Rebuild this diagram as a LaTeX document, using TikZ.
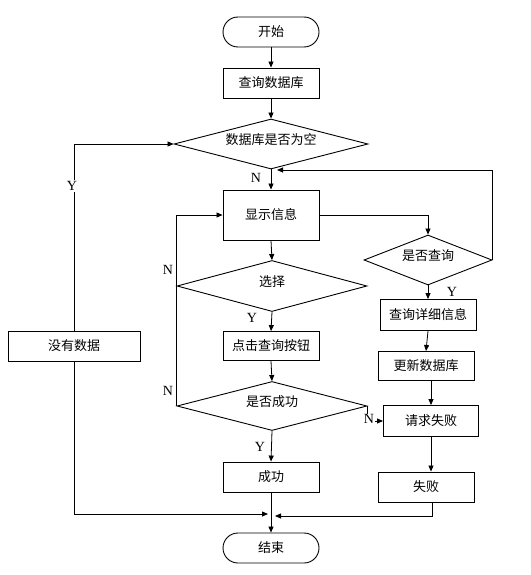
\documentclass[tikz,border=0pt]{standalone}
\usepackage{fontspec}
\setmainfont{Liberation Serif}
\newfontfamily\cjk{Noto Sans CJK SC}
\usetikzlibrary{shapes.geometric,arrows.meta}
\newcommand\dtext[1]{\smash{\makebox[0pt]{#1}}}
\begin{document}
\begin{tikzpicture}[x=1pt,y=-1pt,
  every node/.style={font=\cjk\fontsize{13}{13}\selectfont},
  box/.style={draw,line width=0.9pt,rectangle,minimum width=96pt,minimum height=30pt,inner sep=0pt},
  term/.style={box,rounded corners=15pt},
  dec/.style={draw,line width=0.9pt,diamond,inner sep=0pt,minimum height=50pt},
  lbl/.style={font=\fontsize{14}{14}\selectfont,inner sep=1pt},
  conn/.style={line width=0.8pt,-{Triangle[length=6pt,width=5pt]}}]
\useasboundingbox (0,0) rectangle (530,575);
\node[term] (start) at (271,32) {开始};
\node[box] (q1) at (271,83) {查询数据库};
\node[dec,minimum width=194pt] (d1) at (271,144) {\dtext{数据库是否为空}};
\node[box,minimum height=50pt] (show) at (271,215) {显示信息};
\node[dec,minimum width=128pt] (d2) at (428,260) {\dtext{是否查询}};
\node[dec,minimum width=190pt,minimum height=51pt] (d3) at (272,286) {\dtext{选择}};
\node[box,minimum height=29pt] (click) at (271,346) {点击查询按钮};
\node[dec,minimum width=190pt,minimum height=49pt] (d4) at (272,406) {\dtext{是否成功}};
\node[box] (succ) at (271,477) {成功};
\node[term] (end) at (271,548) {结束};
\node[box,minimum height=31pt] (detail) at (428,315) {查询详细信息};
\node[box,minimum height=29pt] (update) at (426,366) {更新数据库};
\node[box,minimum height=31pt,minimum width=95pt] (reqfail) at (431,421) {请求失败};
\node[box] (fail) at (426,487) {失败};
\node[box,minimum width=132pt] (nodata) at (74,346) {没有数据};
\coordinate (fb) at (277,170);
\coordinate (mergeL) at (268,514);
\coordinate (mergeR) at (275,516);
% main column
\draw[conn] (start) -- (q1);
\draw[conn] (q1) -- (d1);
\draw[conn] (d1.south) -- (show.north);
\draw[conn] (show.south) -- (d3.north);
\draw[conn] (d3.south) -- (click.north);
\draw[conn] (click.south) -- (d4.north);
\draw[conn] (d4.south) -- (succ.north);
\draw[conn] (succ.south) -- (end.north);
% Y branch of d1
\draw[conn] (nodata.north) |- (d1.west);
\draw[conn] (nodata.south) |- (mergeL);
% N loops
\draw[conn] (d4.west) -- (d3.west) |- (show.west);
% right branch
\draw[conn] (show.east) -| (d2.north);
\draw[conn] (d2.east) |- (fb);
\draw[conn] (d2.south) -- (detail.north);
\draw[conn] (detail.south) -- (update.north);
\draw[conn] (reqfail.north |- update.south) -- (reqfail.north);
\draw[conn] (reqfail.south) -- (reqfail.south |- fail.north);
\draw[conn] (d4.east) |- (reqfail.west);
\draw[conn] ([xshift=6pt]fail.south) |- (mergeR);
% labels
\node[lbl,fill=white] (lY1) at (72,186) {Y};
\node[lbl] (lN1) at (256,178) {N};
\node[lbl] (lN2) at (168,270) {N};
\node[lbl] (lN3) at (168,391) {N};
\node[lbl] (lY2) at (252,318) {Y};
\node[lbl] (lY3) at (260,447) {Y};
\node[lbl] (lY4) at (452,292) {Y};
\node[lbl,fill=white,inner sep=0.5pt] (lN4) at (369,419) {N};
\end{tikzpicture}
\end{document}
